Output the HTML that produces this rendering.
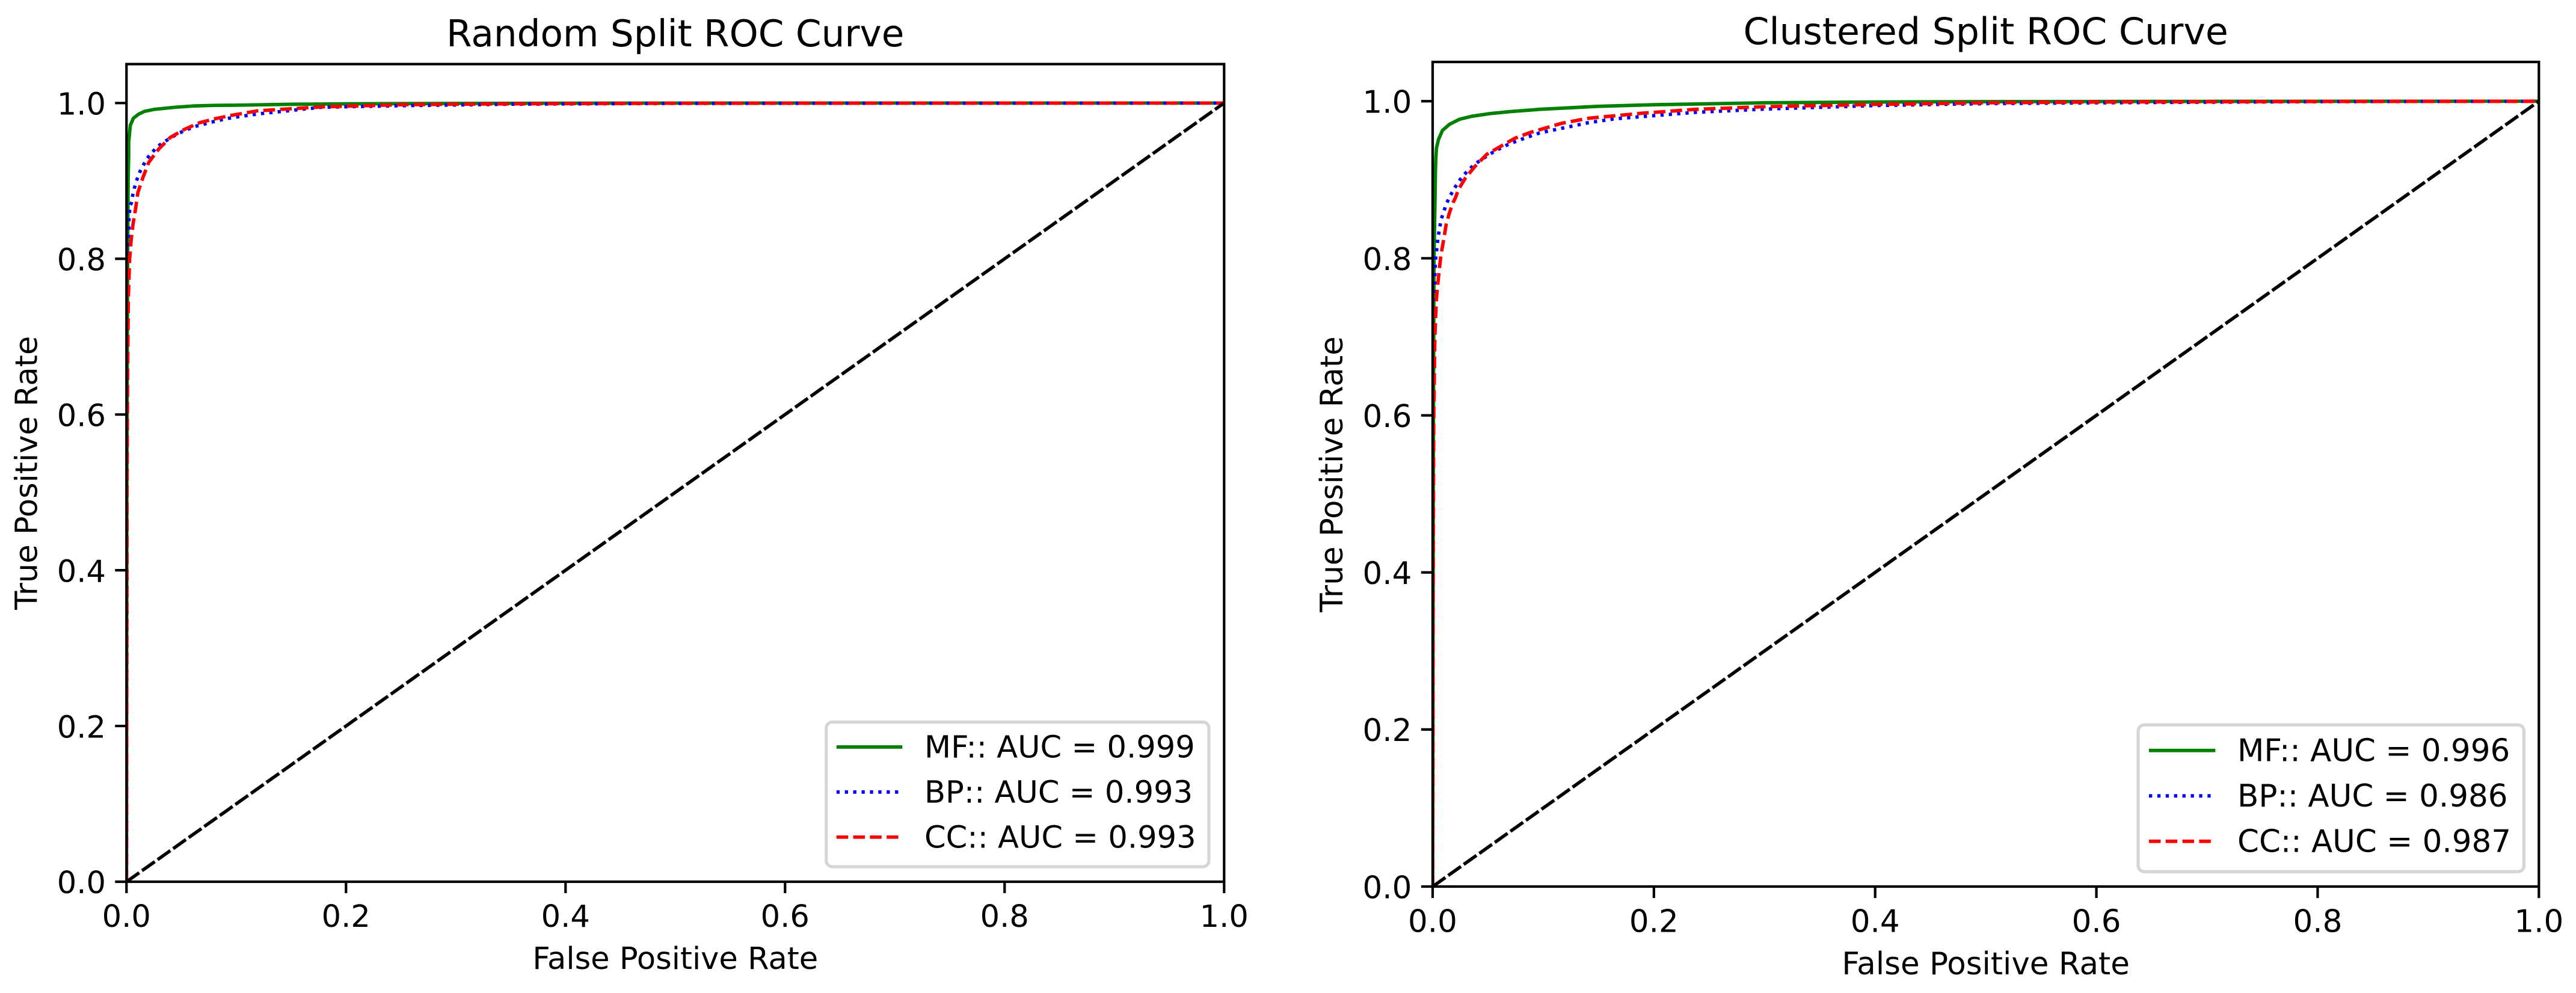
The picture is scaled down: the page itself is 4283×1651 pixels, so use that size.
<!DOCTYPE html>
<html lang="en">
<head>
<meta charset="utf-8">
<title>ROC Curves</title>
<style>
html,body{margin:0;padding:0;background:#fff;}
svg{display:block;}
text{font-family:"DejaVu Sans","Liberation Sans",sans-serif;fill:#000;}
</style>
</head>
<body>
<svg id="figure" xmlns="http://www.w3.org/2000/svg" width="4283" height="1651" viewBox="0 0 4283 1651">
<rect x="0" y="0" width="4283" height="1651" fill="#ffffff"/>
</svg>
<script>
// ---- shared axis data ----
const tickValues = [0, 0.2, 0.4, 0.6, 0.8, 1.0];
const tickLabels = ["0.0", "0.2", "0.4", "0.6", "0.8", "1.0"];
const seriesNames = ["MF", "BP", "CC"];
const diagonalX = [0, 1];
const diagonalY = [0, 1];

// ---- Random split readings ----
const randomAuc = ["0.999", "0.993", "0.993"];
const randomMfFpr = [0, 0.0003, 0.001, 0.0015, 0.002, 0.002, 0.0035, 0.0062, 0.0108, 0.0163, 0.0254, 0.0437, 0.0618, 0.08, 0.0985, 0.15, 0.2, 0.3, 0.4, 0.6, 1];
const randomMfTpr = [0, 0.5, 0.8, 0.9, 0.9315, 0.9495, 0.9714, 0.9804, 0.9855, 0.9893, 0.9919, 0.9945, 0.9963, 0.997, 0.9972, 0.9984, 0.999, 0.9995, 0.9998, 1, 1];
const randomBpFpr = [0, 0.0005, 0.001, 0.0015, 0.0022, 0.0022, 0.0027, 0.0034, 0.0044, 0.0055, 0.0071, 0.0092, 0.0117, 0.015, 0.0186, 0.0232, 0.0285, 0.0345, 0.0473, 0.061, 0.0753, 0.0897, 0.0985, 0.1196, 0.178, 0.2517, 0.35, 0.49, 0.7, 1];
const randomBpTpr = [0, 0.5, 0.7, 0.8, 0.8286, 0.849, 0.8594, 0.8697, 0.871, 0.8805, 0.8903, 0.9003, 0.9104, 0.9194, 0.9284, 0.9364, 0.9444, 0.9503, 0.9611, 0.9693, 0.9747, 0.9796, 0.9817, 0.986, 0.9946, 0.9966, 0.9985, 0.9995, 0.9998, 1];
const randomCcFpr = [0, 0.0005, 0.001, 0.0017, 0.0022, 0.0029, 0.0042, 0.0059, 0.0083, 0.0104, 0.015, 0.0203, 0.0294, 0.04, 0.0528, 0.0665, 0.0811, 0.0939, 0.1196, 0.178, 0.2517, 0.35, 0.49, 0.7, 1];
const randomCcTpr = [0, 0.5, 0.65, 0.7487, 0.7718, 0.8002, 0.8233, 0.8439, 0.8645, 0.8851, 0.9045, 0.9238, 0.941, 0.9559, 0.9662, 0.9747, 0.9799, 0.9838, 0.99, 0.9951, 0.9979, 0.999, 0.9997, 0.9999, 1];

// ---- Clustered split readings ----
const clusteredAuc = ["0.996", "0.986", "0.987"];
const clusteredMfFpr = [0, 0.0005, 0.0012, 0.0022, 0.0025, 0.0029, 0.0034, 0.0053, 0.0089, 0.0152, 0.0243, 0.0352, 0.0515, 0.0696, 0.0968, 0.15, 0.2, 0.3, 0.4, 0.5, 0.7, 1];
const clusteredMfTpr = [0, 0.5, 0.8, 0.88, 0.9106, 0.9272, 0.9399, 0.9514, 0.9629, 0.9706, 0.977, 0.9808, 0.9842, 0.9867, 0.9897, 0.9935, 0.9955, 0.998, 0.999, 0.9995, 0.9998, 1];
const clusteredBpFpr = [0, 0.0005, 0.001, 0.0018, 0.0025, 0.0033, 0.0042, 0.0049, 0.0064, 0.0073, 0.0098, 0.0122, 0.0152, 0.0189, 0.0227, 0.027, 0.0321, 0.0379, 0.0437, 0.0564, 0.0696, 0.0765, 0.0836, 0.0906, 0.0968, 0.1166, 0.1408, 0.1651, 0.2379, 0.3, 0.4, 0.5, 0.6, 0.8, 1];
const clusteredBpTpr = [0, 0.5, 0.7, 0.77, 0.7972, 0.8072, 0.8174, 0.8277, 0.8378, 0.848, 0.8583, 0.8685, 0.8779, 0.8871, 0.8961, 0.9043, 0.9119, 0.9196, 0.9254, 0.9367, 0.9459, 0.9495, 0.9533, 0.9566, 0.9597, 0.9655, 0.9727, 0.9777, 0.9859, 0.99, 0.9945, 0.997, 0.998, 0.9995, 1];
const clusteredCcFpr = [0, 0.0005, 0.001, 0.002, 0.0033, 0.0042, 0.0057, 0.0073, 0.0098, 0.0122, 0.0147, 0.0179, 0.0207, 0.0234, 0.0294, 0.0379, 0.0488, 0.0614, 0.0741, 0.0886, 0.1166, 0.1408, 0.1892, 0.2379, 0.3, 0.4, 0.5, 0.6, 0.8, 1];
const clusteredCcTpr = [0, 0.4, 0.6, 0.7, 0.746, 0.7613, 0.7817, 0.8021, 0.8225, 0.8429, 0.8557, 0.8693, 0.8774, 0.8877, 0.9017, 0.9165, 0.9323, 0.9425, 0.9527, 0.9604, 0.9719, 0.9783, 0.9847, 0.9897, 0.993, 0.996, 0.998, 0.999, 0.9997, 1];

const svg = document.getElementById('figure');
const NS = 'http://www.w3.org/2000/svg';
const seriesColors = ['#008000', '#0000ff', '#ff0000'];
const seriesDashes = ['none', '5.3 8.6', '19.4 8.4'];

function make(tag, parent, props) {
  const el = document.createElementNS(NS, tag);
  for (const k in props) el.setAttribute(k, props[k]);
  parent.appendChild(el);
  return el;
}

function linePath(xs, ys, sx, sy) {
  return xs.map(function (v, i) {
    return (i ? 'L' : 'M') + sx(v).toFixed(2) + ' ' + sy(ys[i]).toFixed(2);
  }).join(' ');
}

function drawPanel(p) {
  const sx = function (v) { return p.x0 + (p.x1 - p.x0) * v; };
  const sy = function (v) { return p.y0 - (p.y0 - p.y1) * v; };
  const top = sy(1.05);
  const k = p.k;
  const fs = 51.1 * k;

  const g = make('g', svg, {});
  
  

  const clip = make('clipPath', g, { id: p.id + '-clip' });
  make('rect', clip, { x: p.x0, y: top, width: p.x1 - p.x0, height: p.y0 - top });

  const plot = make('g', g, { 'clip-path': 'url(#' + p.id + '-clip)' });
  
  

  p.curves.forEach(function (c, i) {
    const line = make('path', plot, {
      d: linePath(c[0], c[1], sx, sy), fill: 'none', stroke: seriesColors[i],
      'stroke-width': 5.7 * k, 'stroke-dasharray': seriesDashes[i], 'stroke-linejoin': 'round'
    });
    
    
  });

  const diag = make('path', plot, {
    d: linePath(diagonalX, diagonalY, sx, sy), fill: 'none', stroke: '#000',
    'stroke-width': 5.5 * k, 'stroke-dasharray': '26 5.7'
  });
  
  

  // ticks
  tickValues.forEach(function (v, i) {
    const xt = make('line', g, { x1: sx(v), x2: sx(v), y1: p.y0, y2: p.y0 + 19 * k, stroke: '#000', 'stroke-width': 4.2 * k });
    
    
    const xl = make('text', g, { x: sx(v), y: p.y0 + 75 * k, 'font-size': fs, 'text-anchor': 'middle' });
    xl.textContent = tickLabels[i];
    
    
    const yt = make('line', g, { x1: p.x0 - 19 * k, x2: p.x0, y1: sy(v), y2: sy(v), stroke: '#000', 'stroke-width': 4.2 * k });
    
    
    const yl = make('text', g, { x: p.x0 - 34.3 * k, y: sy(v) + 19.2 * k, 'font-size': fs, 'text-anchor': 'end' });
    yl.textContent = tickLabels[i];
    
    
  });

  // spines
  const frame = make('rect', g, { x: p.x0, y: top, width: p.x1 - p.x0, height: p.y0 - top, fill: 'none', stroke: '#000', 'stroke-width': 4.2 * k });
  
  

  // titles
  const title = make('text', g, { x: (p.x0 + p.x1) / 2, y: top - 29.5 * k, 'font-size': 61.2 * k, 'text-anchor': 'middle' });
  title.textContent = p.title;
  
  

  const xLabel = make('text', g, { x: (p.x0 + p.x1) / 2, y: p.y0 + 145 * k, 'font-size': fs, 'text-anchor': 'middle' });
  xLabel.textContent = 'False Positive Rate';
  
  

  const yMid = (top + p.y0) / 2;
  const yLabelX = p.x0 - 148.6 * k;
  const yLabel = make('text', g, { x: yLabelX, y: yMid, 'font-size': fs, 'text-anchor': 'middle', transform: 'rotate(-90 ' + yLabelX + ' ' + yMid + ')' });
  yLabel.textContent = 'True Positive Rate';
  
  

  // legend
  const lg = make('g', g, {});
  
  
  const box = make('rect', lg, {
    x: p.lx0, y: p.ly0, width: p.lx1 - p.lx0, height: p.ly1 - p.ly0,
    rx: 10, ry: 10, fill: '#ffffff', 'fill-opacity': 0.8, stroke: '#d6d6d6', 'stroke-width': 5.2 * k
  });
  
  
  seriesNames.forEach(function (name, i) {
    const yy = p.rowY + i * p.rowStep;
    const sw = make('line', lg, {
      x1: p.lineX0, x2: p.lineX0 + 109.5 * k, y1: yy, y2: yy,
      stroke: seriesColors[i], 'stroke-width': 5.7 * k, 'stroke-dasharray': seriesDashes[i]
    });
    
    
    const tx = make('text', lg, { x: p.textX, y: yy + 17.5 * k, 'font-size': fs });
    tx.textContent = name + ':: AUC = ' + p.auc[i];
    
    
  });
}

drawPanel({
  id: 'random-split', title: 'Random Split ROC Curve', k: 1,
  x0: 210.3, x1: 2035.3, y0: 1466, y1: 171.3,
  auc: randomAuc,
  curves: [[randomMfFpr, randomMfTpr], [randomBpFpr, randomBpTpr], [randomCcFpr, randomCcTpr]],
  lx0: 1373.8, lx1: 2010, ly0: 1200.5, ly1: 1441,
  rowY: 1242, rowStep: 74.9, lineX0: 1390.8, textX: 1537
});

drawPanel({
  id: 'clustered-split', title: 'Clustered Split ROC Curve', k: 1.0077,
  x0: 2382, x1: 4221.3, y0: 1474, y1: 168.3,
  auc: clusteredAuc,
  curves: [[clusteredMfFpr, clusteredMfTpr], [clusteredBpFpr, clusteredBpTpr], [clusteredCcFpr, clusteredCcTpr]],
  lx0: 3555, lx1: 4196.5, ly0: 1205.2, ly1: 1449.2,
  rowY: 1247.7, rowStep: 75.5, lineX0: 3573, textX: 3720
});
</script>
</body>
</html>
